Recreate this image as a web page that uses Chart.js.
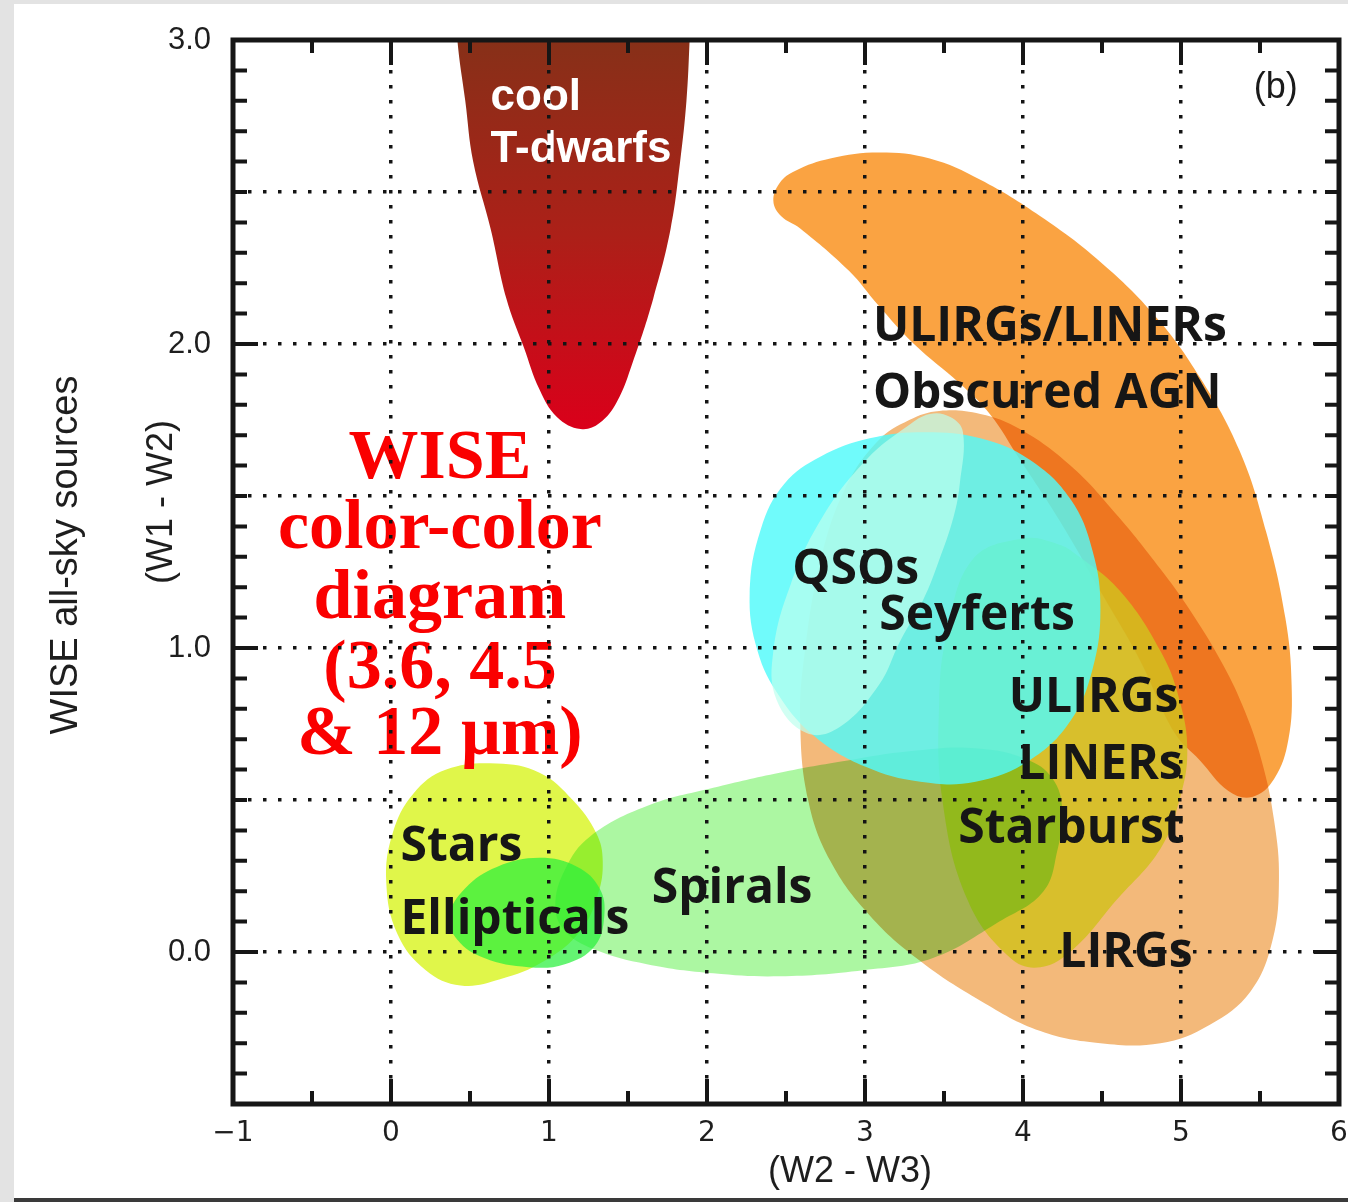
<!DOCTYPE html>
<html>
<head>
<meta charset="utf-8">
<script src="https://cdn.jsdelivr.net/npm/chart.js@4.4.0/dist/chart.umd.min.js"></script>
<style>
  html, body { margin: 0; padding: 0; background: #e3e3e3; }
  canvas { display: block; }
</style>
</head>
<body>
<canvas id="c" width="1348" height="1202"></canvas>
<script>
// ---------- axis ticks ----------
const xTickValues = [-1, 0, 1, 2, 3, 4, 5, 6];
const xTickLabels = ['\u22121', '0', '1', '2', '3', '4', '5', '6'];
const yTickValues = [0, 1, 2, 3];
const yTickLabels = ['0.0', '1.0', '2.0', '3.0'];

// ---------- region outlines (W2-W3, W1-W2) ----------
const tDwarfs = [[0.42,3.00],[0.47,2.80],[0.52,2.60],[0.63,2.38],[0.73,2.15],[0.84,1.99],[0.94,1.85],[1.05,1.76],[1.20,1.72],[1.32,1.74],[1.43,1.81],[1.53,1.94],[1.66,2.15],[1.77,2.38],[1.83,2.60],[1.87,2.80],[1.89,3.00],[1.90,3.15],[0.41,3.15]];
const obscuredAgn = [[2.42,2.47],[2.46,2.53],[2.56,2.57],[2.78,2.61],[3.09,2.63],[3.41,2.61],[3.73,2.54],[4.11,2.42],[4.49,2.27],[4.84,2.09],[5.12,1.89],[5.37,1.65],[5.54,1.38],[5.66,1.10],[5.70,0.88],[5.68,0.70],[5.59,0.57],[5.45,0.51],[5.30,0.53],[5.12,0.63],[4.96,0.72],[4.74,0.96],[4.52,1.16],[4.23,1.42],[3.98,1.62],[3.79,1.77],[3.60,1.87],[3.31,2.00],[3.08,2.13],[2.90,2.24],[2.59,2.38],[2.47,2.42]];
const lirgs = [[2.59,0.76],[2.62,0.99],[2.72,1.29],[2.87,1.52],[3.08,1.68],[3.28,1.75],[3.47,1.78],[3.73,1.77],[3.98,1.72],[4.30,1.60],[4.59,1.44],[4.87,1.26],[5.05,1.13],[5.25,0.96],[5.39,0.81],[5.51,0.63],[5.59,0.43],[5.62,0.24],[5.58,0.04],[5.44,-0.13],[5.18,-0.24],[4.87,-0.30],[4.49,-0.30],[4.11,-0.26],[3.73,-0.16],[3.35,-0.03],[3.03,0.12],[2.78,0.30],[2.64,0.50]];
const starburst = [[4.00,1.36],[3.68,1.29],[3.52,1.05],[3.47,0.83],[3.49,0.50],[3.65,0.17],[3.92,-0.02],[4.11,-0.05],[4.32,0.01],[4.59,0.17],[4.87,0.34],[4.99,0.50],[5.04,0.66],[4.99,0.83],[4.87,0.99],[4.61,1.19],[4.33,1.31],[4.23,1.34]];
const stars = [[-0.03,0.23],[0.01,0.39],[0.14,0.52],[0.35,0.60],[0.67,0.62],[0.94,0.59],[1.15,0.50],[1.30,0.39],[1.34,0.30],[1.31,0.19],[1.20,0.07],[0.97,-0.03],[0.69,-0.09],[0.44,-0.11],[0.22,-0.06],[0.04,0.06]];
const spirals = [[1.04,0.15],[1.10,0.27],[1.26,0.38],[1.62,0.48],[2.04,0.54],[2.46,0.59],[2.89,0.63],[3.28,0.66],[3.70,0.67],[4.04,0.63],[4.20,0.56],[4.25,0.45],[4.22,0.34],[4.13,0.20],[3.85,0.10],[3.43,-0.02],[2.99,-0.06],[2.46,-0.08],[2.04,-0.07],[1.62,-0.04],[1.28,0.01],[1.10,0.07]];
const ellipticals = [[0.37,0.12],[0.47,0.21],[0.67,0.28],[0.94,0.31],[1.18,0.28],[1.32,0.21],[1.35,0.12],[1.29,0.02],[1.10,-0.04],[0.87,-0.05],[0.59,-0.02],[0.42,0.04]];
const qsos = [[2.27,1.18],[2.34,1.39],[2.49,1.54],[2.72,1.63],[3.03,1.69],[3.38,1.71],[3.73,1.69],[4.04,1.62],[4.30,1.49],[4.44,1.32],[4.49,1.13],[4.44,0.93],[4.30,0.76],[4.04,0.63],[3.70,0.56],[3.35,0.56],[3.00,0.61],[2.68,0.71],[2.46,0.84],[2.32,0.99]];
const seyferts = [[3.54,1.76],[3.62,1.71],[3.60,1.54],[3.56,1.43],[3.47,1.29],[3.37,1.16],[3.22,1.02],[3.09,0.88],[2.84,0.74],[2.63,0.72],[2.44,0.83],[2.42,0.99],[2.53,1.21],[2.73,1.43],[3.01,1.62],[3.27,1.73],[3.41,1.77]];

// ---------- annotations ----------
const regionLabels = [
  { text: 'ULIRGs/LINERs', x: 3.05, y: 2.01 },
  { text: 'Obscured AGN', x: 3.05, y: 1.79 },
  { text: 'QSOs', x: 2.54, y: 1.21 },
  { text: 'Seyferts', x: 3.09, y: 1.06 },
  { text: 'ULIRGs', x: 3.91, y: 0.79 },
  { text: 'LINERs', x: 3.97, y: 0.57 },
  { text: 'Starburst', x: 3.59, y: 0.36 },
  { text: 'LIRGs', x: 4.23, y: -0.05 },
  { text: 'Stars', x: 0.06, y: 0.30 },
  { text: 'Ellipticals', x: 0.06, y: 0.06 },
  { text: 'Spirals', x: 1.65, y: 0.16 }
];
const dwarfLabels = [
  { text: 'cool', x: 0.63, y: 2.77 },
  { text: 'T-dwarfs', x: 0.63, y: 2.60 }
];
const titleLines = ['WISE', 'color-color', 'diagram', '(3.6, 4.5', '& 12 \u00b5m)'];
const titleLineY = [1.56, 1.33, 1.10, 0.87, 0.65];
const titleX = 0.31;

// ---------- helpers ----------
function closedPath(pts) {
  const n = pts.length;
  return [pts[n - 1], ...pts, pts[0], pts[1]].map(p => ({ x: p[0], y: p[1] }));
}
function labelFor(values, labels, v) {
  for (let i = 0; i < values.length; i++) if (Math.abs(values[i] - v) < 1e-6) return labels[i];
  return '';
}

const regions = [
  { name: 'LIRGs', pts: lirgs, color: 'rgb(243,185,122)' },
  { name: 'ULIRGs/LINERs Obscured AGN', pts: obscuredAgn, color: 'rgb(250,163,66)', blend: 'multiply' },
  { name: 'ULIRGs LINERs Starburst', pts: starburst, color: 'rgba(210,192,30,0.85)' },
  { name: 'Stars', pts: stars, color: 'rgb(224,246,74)' },
  { name: 'Spirals', pts: spirals, color: 'rgb(172,247,162)', blend: 'multiply' },
  { name: 'Ellipticals', pts: ellipticals, color: 'rgba(40,240,60,0.72)' },
  { name: 'QSOs', pts: qsos, color: 'rgba(80,250,250,0.82)' },
  { name: 'Seyferts', pts: seyferts, color: 'rgba(190,255,238,0.70)' },
  { name: 'cool T-dwarfs', pts: tDwarfs, color: 'dwarf' }
];

function dwarfGradient(context) {
  const chart = context.chart;
  const ys = chart.scales && chart.scales.y;
  if (!chart.chartArea || !ys) return 'rgb(170,32,24)';
  const g = chart.ctx.createLinearGradient(0, ys.getPixelForValue(3.0), 0, ys.getPixelForValue(1.72));
  g.addColorStop(0, 'rgb(135,48,24)');
  g.addColorStop(0.5, 'rgb(172,32,24)');
  g.addColorStop(1, 'rgb(218,0,26)');
  return g;
}

const N = regions.length;
const datasets = regions.map((r, i) => ({
  label: r.name,
  data: closedPath(r.pts),
  showLine: true,
  fill: 'shape',
  tension: 0.4,
  borderWidth: 0,
  borderColor: 'rgba(0,0,0,0)',
  pointRadius: 0,
  pointHoverRadius: 0,
  backgroundColor: r.color === 'dwarf' ? dwarfGradient : r.color,
  blend: r.blend || 'source-over',
  order: N - i
}));

const decor = {
  id: 'decor',
  beforeDraw(chart) {
    const ctx = chart.ctx;
    ctx.save();
    ctx.fillStyle = '#e3e3e3';
    ctx.fillRect(0, 0, chart.width, chart.height);
    ctx.fillStyle = '#ffffff';
    ctx.fillRect(14, 4, chart.width - 14, 1194);
    ctx.fillStyle = '#3a3a3a';
    ctx.fillRect(14, 1198, chart.width - 14, 4);
    ctx.restore();
  },
  beforeDatasetsDraw(chart) {
    const drawn = chart.getSortedVisibleDatasetMetas().slice().reverse();
    chart.$drawn = drawn;
    chart.ctx.globalCompositeOperation = drawn.length ? chart.data.datasets[drawn[0].index].blend : 'source-over';
  },
  afterDatasetDraw(chart, args) {
    const drawn = chart.$drawn || [];
    const p = drawn.findIndex(m => m.index === args.index);
    const next = drawn[p + 1];
    chart.ctx.globalCompositeOperation = next ? chart.data.datasets[next.index].blend : 'source-over';
  },
  afterDatasetsDraw(chart) {
    const ctx = chart.ctx;
    const xs = chart.scales.x, ys = chart.scales.y;
    ctx.globalCompositeOperation = 'source-over';
    ctx.save();
    ctx.textAlign = 'left';
    ctx.textBaseline = 'alphabetic';
    ctx.fillStyle = '#161616';
    ctx.font = 'bold 48px "Open Sans"';
    regionLabels.forEach(l => ctx.fillText(l.text, xs.getPixelForValue(l.x), ys.getPixelForValue(l.y)));
    ctx.fillStyle = '#ffffff';
    ctx.font = 'bold 44px "Liberation Sans"';
    dwarfLabels.forEach(l => ctx.fillText(l.text, xs.getPixelForValue(l.x), ys.getPixelForValue(l.y)));
    ctx.fillStyle = '#1a1a1a';
    ctx.font = '36px "Liberation Sans"';
    ctx.fillText('(b)', xs.getPixelForValue(5.46), ys.getPixelForValue(2.81));
    // red caption
    ctx.textAlign = 'center';
    ctx.font = 'bold 70px "Liberation Serif"';
    ctx.fillStyle = 'rgb(250,0,0)';
    titleLines.forEach((t, i) => {
      ctx.fillText(t, xs.getPixelForValue(titleX), ys.getPixelForValue(titleLineY[i]));
    });
    ctx.restore();
  },
  afterDraw(chart) {
    const { ctx, chartArea: a } = chart;
    const xs = chart.scales.x, ys = chart.scales.y;
    ctx.save();
    ctx.strokeStyle = '#161616';
    ctx.lineWidth = 4;
    ctx.lineCap = 'butt';
    ctx.beginPath();
    for (let k = Math.ceil(xs.min * 2); k <= Math.floor(xs.max * 2); k++) {
      const px = xs.getPixelForValue(k / 2);
      const len = (k % 2 === 0) ? 25 : 13;
      ctx.moveTo(px, a.bottom); ctx.lineTo(px, a.bottom - len);
      ctx.moveTo(px, a.top); ctx.lineTo(px, a.top + len);
    }
    for (let k = Math.ceil(ys.min * 10); k <= Math.floor(ys.max * 10); k++) {
      const py = ys.getPixelForValue(k / 10);
      const len = (k % 10 === 0) ? 25 : 14;
      ctx.moveTo(a.left, py); ctx.lineTo(a.left + len, py);
      ctx.moveTo(a.right, py); ctx.lineTo(a.right - len, py);
    }
    ctx.stroke();
    ctx.lineWidth = 5;
    ctx.strokeRect(a.left, a.top, a.right - a.left, a.bottom - a.top);
    // axis titles
    ctx.fillStyle = '#1e1e1e';
    ctx.textAlign = 'center';
    ctx.textBaseline = 'alphabetic';
    ctx.font = '36px "Liberation Sans"';
    ctx.fillText('(W2 - W3)', 850, 1182);
    ctx.save();
    ctx.translate(172, 502);
    ctx.rotate(-Math.PI / 2);
    ctx.fillText('(W1 - W2)', 0, 0);
    ctx.restore();
    ctx.save();
    ctx.translate(77, 555);
    ctx.rotate(-Math.PI / 2);
    ctx.font = '38px "Liberation Sans"';
    ctx.fillText('WISE all-sky sources', 0, 0);
    ctx.restore();
    ctx.restore();
  }
};

new Chart(document.getElementById('c'), {
  type: 'scatter',
  data: { datasets },
  options: {
    responsive: false,
    animation: false,
    events: [],
    layout: { padding: { top: 40, right: 9, bottom: 0, left: 0 } },
    plugins: { legend: { display: false }, tooltip: { enabled: false }, title: { display: false } },
    scales: {
      x: {
        type: 'linear', position: 'bottom', min: -1, max: 6,
        afterFit: s => { s.height = 98; s.paddingLeft = 0; s.paddingRight = 0; },
        ticks: {
          stepSize: 1, autoSkip: false, maxRotation: 0, padding: 13, color: '#1e1e1e',
          font: { family: '"DejaVu Sans"', size: 28 },
          callback: v => labelFor(xTickValues, xTickLabels, v)
        },
        grid: {
          z: 1, drawTicks: false, lineWidth: 3.5,
          color: c => (c.tick && c.tick.value > -0.99 && c.tick.value < 5.99) ? '#141414' : 'rgba(0,0,0,0)'
        },
        border: { display: false, dash: [3.5, 11.5] }
      },
      y: {
        type: 'linear', position: 'left', min: -0.5, max: 3.0,
        afterFit: s => { s.width = 233; s.paddingTop = 0; s.paddingBottom = 0; },
        ticks: {
          stepSize: 0.5, autoSkip: false, padding: 22, color: '#1e1e1e',
          font: { family: '"Liberation Sans"', size: 31 },
          callback: v => labelFor(yTickValues, yTickLabels, v)
        },
        grid: {
          z: 1, drawTicks: false, lineWidth: 3.5,
          color: c => (c.tick && c.tick.value > -0.49 && c.tick.value < 2.99) ? '#141414' : 'rgba(0,0,0,0)'
        },
        border: { display: false, dash: [3.5, 11.5] }
      }
    }
  },
  plugins: [decor]
});
</script>
</body>
</html>
